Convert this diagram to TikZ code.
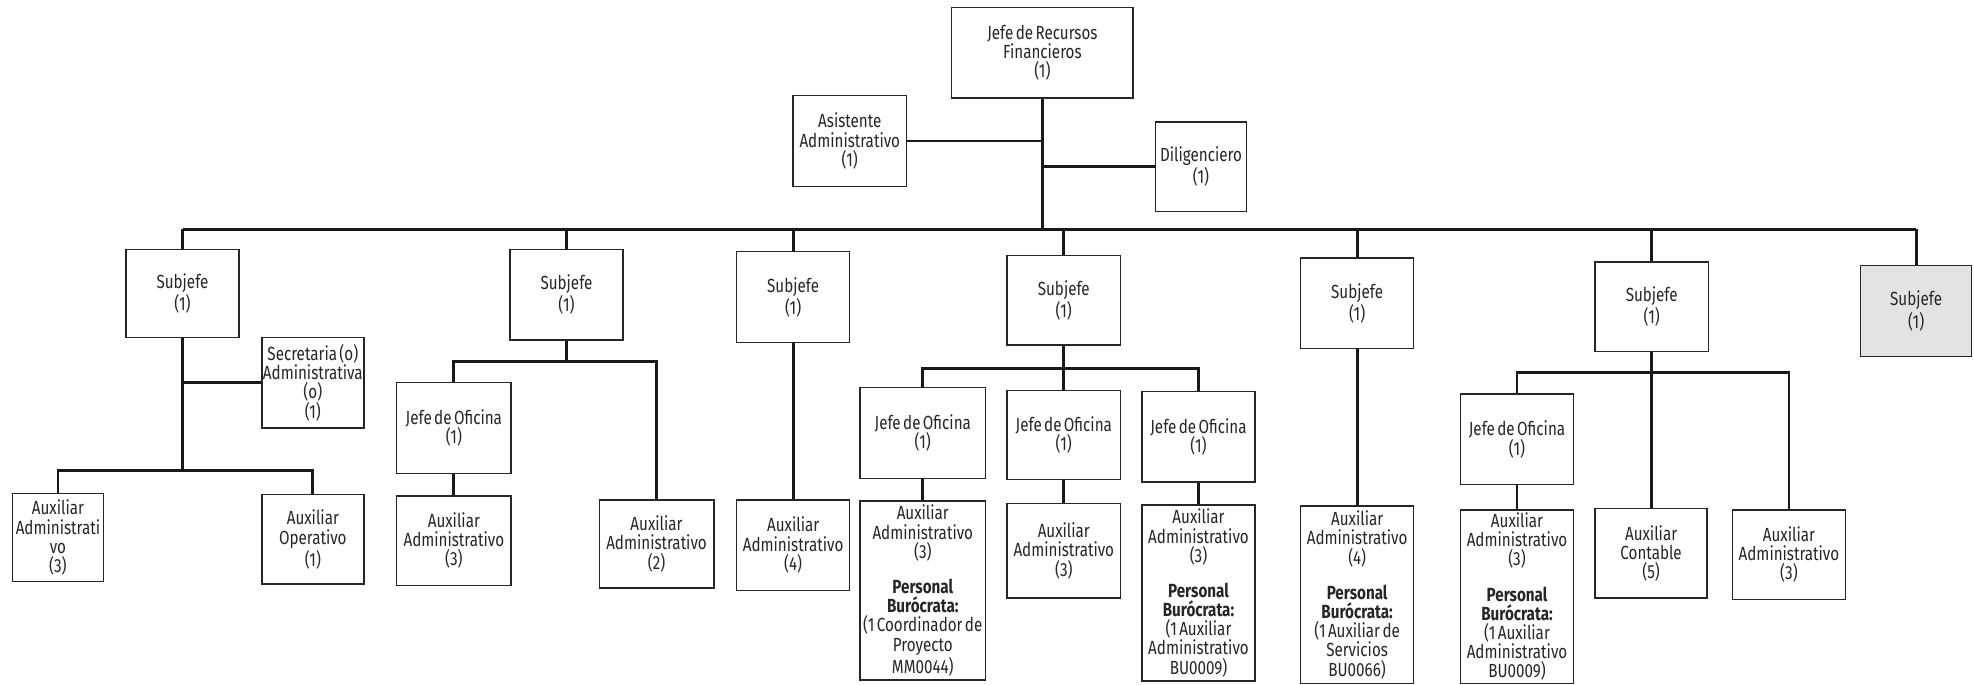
\documentclass[tikz,border=0pt]{standalone}
\usepackage{fontspec}
\setmainfont{Fira Sans}[FakeStretch=0.80,WordSpace=0.6]
\usetikzlibrary{calc}
\tikzset{
  orgbox/.style={draw=black!85, line width=0.7pt, align=center, inner sep=0pt,
    font=\fontsize{9.5}{9.6}\selectfont, text=black!85},
  link/.style={draw=black!90, line width=1.4pt},
}
\newcommand\obox[7][]{\node[orgbox,#1,minimum width={(#5-#3)*0.6295pt},minimum height={(#6-#4)*0.6295pt}] (#2) at ({(#3+#5)/2},{(#4+#6)/2}) {#7};}
\newcommand\pb{\\[8pt]\textbf{Personal}\\\textbf{Burócrata:}}
\begin{document}
\begin{tikzpicture}[x=0.6295pt,y=-0.6295pt]
\fill[white] (0,0) rectangle (1568,544);
\useasboundingbox (0,0) rectangle (1568,544);
% top
\obox{jefe}{756}{6}{900}{78}{Jefe de Recursos\\Financieros\\(1)}
\obox{asis}{630}{76}{720}{148}{Asistente\\Administrativo\\(1)}
\obox{dili}{918}{97}{990}{168}{Diligenciero\\(1)}
\coordinate (bus) at (828,182);
% subjefes
\obox{s1}{100}{198}{190}{268}{Subjefe\\(1)}
\obox{s2}{405}{198}{495}{270}{Subjefe\\(1)}
\obox{s3}{585}{200}{675}{272}{Subjefe\\(1)}
\obox{s4}{800}{203}{890}{274}{Subjefe\\(1)}
\obox{s5}{1033}{205}{1123}{277}{Subjefe\\(1)}
\obox{s6}{1267}{208}{1357}{279}{Subjefe\\(1)}
\obox[fill=gray!22]{s7}{1478}{211}{1566}{283}{Subjefe\\(1)}
\draw[link] (jefe.south) -- (bus);
\draw[link] (asis.east) -- (asis.east -| jefe.south);
\draw[link] (dili.west) -- (dili.west -| jefe.south);
\draw[link] (s1.north |- bus) -- (s7.north |- bus);
\foreach \s in {s1,s2,s3,s4,s5,s6,s7}{\draw[link] (\s.north) -- (\s.north |- bus);}
% subtree 1
\obox{sec}{208}{268}{289}{340}{Secretaria (o)\\Administrativa\\(o)\\(1)}
\obox{a11}{10}{392}{82}{462}{Auxiliar\\Administrati\\vo\\(3)}
\obox{a12}{208}{393}{289}{464}{Auxiliar\\Operativo\\(1)}
\coordinate (b1) at (145,374);
\draw[link] (s1.south) -- (b1);
\draw[link] (sec.west) -- (sec.west -| s1.south);
\draw[link] (a11.north) |- (b1) -| (a12.north);
% subtree 2
\obox{j2}{315}{304}{406}{376}{Jefe de Oficina\\(1)}
\obox{a21}{315}{394}{406}{465}{Auxiliar\\Administrativo\\(3)}
\obox{a22}{476}{397}{567}{467}{Auxiliar\\Administrativo\\(2)}
\coordinate (b2) at (450,287);
\draw[link] (s2.south) -- (b2);
\draw[link] (j2.north) |- (b2) -| (a22.north);
\draw[link] (j2.south) -- (a21.north);
% subtree 3
\obox{a3}{585}{397}{675}{469}{Auxiliar\\Administrativo\\(4)}
\draw[link] (s3.south) -- (a3.north);
% subtree 4
\obox{j41}{683}{308}{783}{380}{Jefe de Oficina\\(1)}
\obox{j42}{800}{310}{890}{381}{Jefe de Oficina\\(1)}
\obox{j43}{907}{311}{997}{383}{Jefe de Oficina\\(1)}
\obox{a41}{683}{398}{783}{540}{Auxiliar\\Administrativo\\(3)\pb\\(1 Coordinador de\\Proyecto\\MM0044)}
\obox{a42}{800}{400}{890}{475}{Auxiliar\\Administrativo\\(3)}
\obox{a43}{907}{401}{997}{541}{Auxiliar\\Administrativo\\(3)\pb\\(1 Auxiliar\\Administrativo\\BU0009)}
\coordinate (b4) at (845,293);
\draw[link] (s4.south) -- (b4);
\draw[link] (j41.north) |- (b4) -| (j43.north);
\draw[link] (j42.north) -- (j42.north |- b4);
\draw[link] (j41.south) -- (a41.north);
\draw[link] (j42.south) -- (a42.north);
\draw[link] (j43.south) -- (a43.north);
% subtree 5
\obox{a5}{1033}{402}{1123}{543}{Auxiliar\\Administrativo\\(4)\pb\\(1 Auxiliar de\\Servicios\\BU0066)}
\draw[link] (s5.south) -- (a5.north);
% subtree 6
\obox{j6}{1160}{313}{1250}{385}{Jefe de Oficina\\(1)}
\obox{a61}{1160}{405}{1250}{543}{Auxiliar\\Administrativo\\(3)\pb\\(1 Auxiliar\\Administrativo\\BU0009)}
\obox{a62}{1267}{404}{1356}{475}{Auxiliar\\Contable\\(5)}
\obox{a63}{1376}{405}{1466}{476}{Auxiliar\\Administrativo\\(3)}
\coordinate (b6) at (1312,296);
\draw[link] (s6.south) -- (b6);
\draw[link] (j6.north) |- (b6) -| (a63.north);
\draw[link] (a62.north |- b6) -- (a62.north);
\draw[link] (j6.south) -- (a61.north);
\end{tikzpicture}
\end{document}
